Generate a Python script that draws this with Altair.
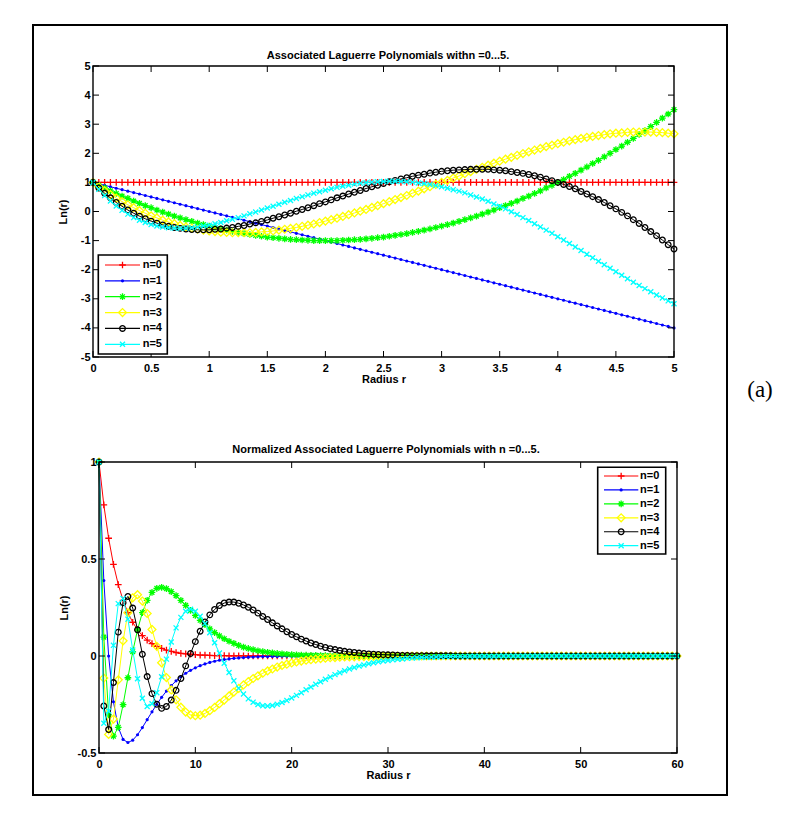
import altair as alt
import pandas as pd

# ---------------------------------------------------------------- data
# radii sampled in the upper panel (0 .. 5, step 0.05)
R_TOP = [
    0.00, 0.05, 0.10, 0.15, 0.20, 0.25, 0.30, 0.35, 0.40, 0.45,
    0.50, 0.55, 0.60, 0.65, 0.70, 0.75, 0.80, 0.85, 0.90, 0.95,
    1.00, 1.05, 1.10, 1.15, 1.20, 1.25, 1.30, 1.35, 1.40, 1.45,
    1.50, 1.55, 1.60, 1.65, 1.70, 1.75, 1.80, 1.85, 1.90, 1.95,
    2.00, 2.05, 2.10, 2.15, 2.20, 2.25, 2.30, 2.35, 2.40, 2.45,
    2.50, 2.55, 2.60, 2.65, 2.70, 2.75, 2.80, 2.85, 2.90, 2.95,
    3.00, 3.05, 3.10, 3.15, 3.20, 3.25, 3.30, 3.35, 3.40, 3.45,
    3.50, 3.55, 3.60, 3.65, 3.70, 3.75, 3.80, 3.85, 3.90, 3.95,
    4.00, 4.05, 4.10, 4.15, 4.20, 4.25, 4.30, 4.35, 4.40, 4.45,
    4.50, 4.55, 4.60, 4.65, 4.70, 4.75, 4.80, 4.85, 4.90, 4.95,
    5.00,
]

TOP_L0 = [
    1, 1, 1, 1, 1, 1, 1, 1, 1, 1,
    1, 1, 1, 1, 1, 1, 1, 1, 1, 1,
    1, 1, 1, 1, 1, 1, 1, 1, 1, 1,
    1, 1, 1, 1, 1, 1, 1, 1, 1, 1,
    1, 1, 1, 1, 1, 1, 1, 1, 1, 1,
    1, 1, 1, 1, 1, 1, 1, 1, 1, 1,
    1, 1, 1, 1, 1, 1, 1, 1, 1, 1,
    1, 1, 1, 1, 1, 1, 1, 1, 1, 1,
    1, 1, 1, 1, 1, 1, 1, 1, 1, 1,
    1, 1, 1, 1, 1, 1, 1, 1, 1, 1,
    1,
]
TOP_L1 = [
    1.00, 0.95, 0.90, 0.85, 0.80, 0.75, 0.70, 0.65, 0.60, 0.55,
    0.50, 0.45, 0.40, 0.35, 0.30, 0.25, 0.20, 0.15, 0.10, 0.05,
    0.00, -0.05, -0.10, -0.15, -0.20, -0.25, -0.30, -0.35, -0.40, -0.45,
    -0.50, -0.55, -0.60, -0.65, -0.70, -0.75, -0.80, -0.85, -0.90, -0.95,
    -1.00, -1.05, -1.10, -1.15, -1.20, -1.25, -1.30, -1.35, -1.40, -1.45,
    -1.50, -1.55, -1.60, -1.65, -1.70, -1.75, -1.80, -1.85, -1.90, -1.95,
    -2.00, -2.05, -2.10, -2.15, -2.20, -2.25, -2.30, -2.35, -2.40, -2.45,
    -2.50, -2.55, -2.60, -2.65, -2.70, -2.75, -2.80, -2.85, -2.90, -2.95,
    -3.00, -3.05, -3.10, -3.15, -3.20, -3.25, -3.30, -3.35, -3.40, -3.45,
    -3.50, -3.55, -3.60, -3.65, -3.70, -3.75, -3.80, -3.85, -3.90, -3.95,
    -4.00,
]
TOP_L2 = [
    1.00, 0.90, 0.81, 0.71, 0.62, 0.53, 0.45, 0.36, 0.28, 0.20,
    0.13, 0.05, -0.02, -0.09, -0.16, -0.22, -0.28, -0.34, -0.40, -0.45,
    -0.50, -0.55, -0.60, -0.64, -0.68, -0.72, -0.76, -0.79, -0.82, -0.85,
    -0.88, -0.90, -0.92, -0.94, -0.96, -0.97, -0.98, -0.99, -1.00, -1.00,
    -1.00, -1.00, -1.00, -0.99, -0.98, -0.97, -0.96, -0.94, -0.92, -0.90,
    -0.88, -0.85, -0.82, -0.79, -0.76, -0.72, -0.68, -0.64, -0.60, -0.55,
    -0.50, -0.45, -0.40, -0.34, -0.28, -0.22, -0.16, -0.09, -0.02, 0.05,
    0.13, 0.20, 0.28, 0.36, 0.45, 0.53, 0.62, 0.71, 0.81, 0.90,
    1.00, 1.10, 1.21, 1.31, 1.42, 1.53, 1.65, 1.76, 1.88, 2.00,
    2.13, 2.25, 2.38, 2.51, 2.65, 2.78, 2.92, 3.06, 3.21, 3.35,
    3.50,
]
TOP_L3 = [
    1.00, 0.85, 0.71, 0.58, 0.46, 0.34, 0.23, 0.13, 0.03, -0.06,
    -0.15, -0.22, -0.30, -0.36, -0.42, -0.48, -0.53, -0.57, -0.61, -0.64,
    -0.67, -0.69, -0.71, -0.72, -0.73, -0.73, -0.73, -0.73, -0.72, -0.70,
    -0.69, -0.67, -0.64, -0.61, -0.58, -0.55, -0.51, -0.47, -0.43, -0.38,
    -0.33, -0.28, -0.23, -0.17, -0.11, -0.05, 0.01, 0.07, 0.14, 0.20,
    0.27, 0.34, 0.41, 0.48, 0.55, 0.63, 0.70, 0.78, 0.85, 0.93,
    1.00, 1.07, 1.15, 1.22, 1.30, 1.37, 1.45, 1.52, 1.59, 1.66,
    1.73, 1.80, 1.86, 1.93, 1.99, 2.05, 2.11, 2.17, 2.23, 2.28,
    2.33, 2.38, 2.43, 2.47, 2.51, 2.55, 2.58, 2.61, 2.64, 2.67,
    2.69, 2.70, 2.72, 2.73, 2.73, 2.73, 2.73, 2.72, 2.71, 2.69,
    2.67,
]
TOP_L4 = [
    1.00, 0.81, 0.63, 0.47, 0.31, 0.18, 0.05, -0.06, -0.16, -0.25,
    -0.33, -0.40, -0.46, -0.51, -0.55, -0.58, -0.60, -0.62, -0.63, -0.63,
    -0.63, -0.61, -0.60, -0.57, -0.55, -0.51, -0.48, -0.43, -0.39, -0.34,
    -0.29, -0.23, -0.18, -0.12, -0.06, 0.01, 0.07, 0.13, 0.20, 0.27,
    0.33, 0.40, 0.47, 0.53, 0.60, 0.66, 0.72, 0.79, 0.85, 0.90,
    0.96, 1.02, 1.07, 1.12, 1.16, 1.21, 1.25, 1.28, 1.32, 1.35,
    1.38, 1.40, 1.42, 1.43, 1.44, 1.45, 1.45, 1.45, 1.45, 1.43,
    1.42, 1.40, 1.37, 1.34, 1.31, 1.27, 1.23, 1.18, 1.12, 1.06,
    1.00, 0.93, 0.86, 0.78, 0.69, 0.60, 0.51, 0.41, 0.31, 0.20,
    0.09, -0.03, -0.15, -0.28, -0.41, -0.55, -0.69, -0.83, -0.98, -1.14,
    -1.29,
]
TOP_L5 = [
    1.00, 0.76, 0.55, 0.36, 0.19, 0.04, -0.09, -0.21, -0.30, -0.38,
    -0.45, -0.50, -0.53, -0.56, -0.57, -0.58, -0.57, -0.56, -0.53, -0.50,
    -0.47, -0.42, -0.38, -0.32, -0.27, -0.21, -0.15, -0.08, -0.02, 0.05,
    0.12, 0.18, 0.25, 0.32, 0.38, 0.45, 0.51, 0.57, 0.63, 0.68,
    0.73, 0.78, 0.83, 0.87, 0.90, 0.94, 0.97, 0.99, 1.01, 1.02,
    1.03, 1.04, 1.04, 1.03, 1.02, 1.01, 0.98, 0.96, 0.93, 0.89,
    0.85, 0.80, 0.75, 0.70, 0.64, 0.57, 0.50, 0.43, 0.35, 0.26,
    0.18, 0.09, -0.01, -0.10, -0.21, -0.31, -0.42, -0.53, -0.64, -0.75,
    -0.87, -0.98, -1.10, -1.22, -1.34, -1.47, -1.59, -1.71, -1.83, -1.95,
    -2.07, -2.19, -2.31, -2.43, -2.54, -2.65, -2.76, -2.87, -2.97, -3.07,
    -3.17,
]

# radii sampled in the lower panel (0 .. 60, step 0.5)
R_BOT = [
    0, 0.5, 1, 1.5, 2, 2.5, 3, 3.5, 4, 4.5,
    5, 5.5, 6, 6.5, 7, 7.5, 8, 8.5, 9, 9.5,
    10, 10.5, 11, 11.5, 12, 12.5, 13, 13.5, 14, 14.5,
    15, 15.5, 16, 16.5, 17, 17.5, 18, 18.5, 19, 19.5,
    20, 20.5, 21, 21.5, 22, 22.5, 23, 23.5, 24, 24.5,
    25, 25.5, 26, 26.5, 27, 27.5, 28, 28.5, 29, 29.5,
    30, 30.5, 31, 31.5, 32, 32.5, 33, 33.5, 34, 34.5,
    35, 35.5, 36, 36.5, 37, 37.5, 38, 38.5, 39, 39.5,
    40, 40.5, 41, 41.5, 42, 42.5, 43, 43.5, 44, 44.5,
    45, 45.5, 46, 46.5, 47, 47.5, 48, 48.5, 49, 49.5,
    50, 50.5, 51, 51.5, 52, 52.5, 53, 53.5, 54, 54.5,
    55, 55.5, 56, 56.5, 57, 57.5, 58, 58.5, 59, 59.5,
    60,
]

BOT_L0 = [
    1.000, 0.779, 0.607, 0.472, 0.368, 0.287, 0.223, 0.174, 0.135, 0.105,
    0.082, 0.064, 0.050, 0.039, 0.030, 0.024, 0.018, 0.014, 0.011, 0.009,
    0.007, 0.005, 0.004, 0.003, 0.002, 0.002, 0.002, 0.001, 0.001, 0.001,
    0.001, 0, 0, 0, 0, 0, 0, 0, 0, 0,
    0, 0, 0, 0, 0, 0, 0, 0, 0, 0,
    0, 0, 0, 0, 0, 0, 0, 0, 0, 0,
    0, 0, 0, 0, 0, 0, 0, 0, 0, 0,
    0, 0, 0, 0, 0, 0, 0, 0, 0, 0,
    0, 0, 0, 0, 0, 0, 0, 0, 0, 0,
    0, 0, 0, 0, 0, 0, 0, 0, 0, 0,
    0, 0, 0, 0, 0, 0, 0, 0, 0, 0,
    0, 0, 0, 0, 0, 0, 0, 0, 0, 0,
    0,
]
BOT_L1 = [
    1.000, 0.389, 0.000, -0.236, -0.368, -0.430, -0.446, -0.434, -0.406, -0.369,
    -0.328, -0.288, -0.249, -0.213, -0.181, -0.153, -0.128, -0.107, -0.089, -0.074,
    -0.061, -0.050, -0.041, -0.033, -0.027, -0.022, -0.018, -0.015, -0.012, -0.010,
    -0.008, -0.006, -0.005, -0.004, -0.003, -0.003, -0.002, -0.002, -0.001, -0.001,
    -0.001, -0.001, -0.001, 0, 0, 0, 0, 0, 0, 0,
    0, 0, 0, 0, 0, 0, 0, 0, 0, 0,
    0, 0, 0, 0, 0, 0, 0, 0, 0, 0,
    0, 0, 0, 0, 0, 0, 0, 0, 0, 0,
    0, 0, 0, 0, 0, 0, 0, 0, 0, 0,
    0, 0, 0, 0, 0, 0, 0, 0, 0, 0,
    0, 0, 0, 0, 0, 0, 0, 0, 0, 0,
    0, 0, 0, 0, 0, 0, 0, 0, 0, 0,
    0,
]
BOT_L2 = [
    1.000, 0.097, -0.303, -0.413, -0.368, -0.251, -0.112, 0.022, 0.135, 0.224,
    0.287, 0.328, 0.349, 0.354, 0.347, 0.332, 0.311, 0.287, 0.261, 0.235,
    0.209, 0.184, 0.161, 0.140, 0.121, 0.104, 0.089, 0.076, 0.065, 0.055,
    0.046, 0.039, 0.033, 0.027, 0.023, 0.019, 0.016, 0.013, 0.011, 0.009,
    0.007, 0.006, 0.005, 0.004, 0.003, 0.003, 0.002, 0.002, 0.001, 0.001,
    0.001, 0.001, 0.001, 0.001, 0, 0, 0, 0, 0, 0,
    0, 0, 0, 0, 0, 0, 0, 0, 0, 0,
    0, 0, 0, 0, 0, 0, 0, 0, 0, 0,
    0, 0, 0, 0, 0, 0, 0, 0, 0, 0,
    0, 0, 0, 0, 0, 0, 0, 0, 0, 0,
    0, 0, 0, 0, 0, 0, 0, 0, 0, 0,
    0, 0, 0, 0, 0, 0, 0, 0, 0, 0,
    0,
]
BOT_L3 = [
    1.000, -0.114, -0.404, -0.325, -0.123, 0.078, 0.223, 0.300, 0.316, 0.283,
    0.219, 0.137, 0.050, -0.035, -0.111, -0.175, -0.226, -0.264, -0.289, -0.303,
    -0.308, -0.305, -0.296, -0.282, -0.265, -0.246, -0.227, -0.206, -0.186, -0.167,
    -0.149, -0.132, -0.116, -0.102, -0.089, -0.077, -0.067, -0.057, -0.049, -0.042,
    -0.036, -0.031, -0.026, -0.022, -0.019, -0.016, -0.013, -0.011, -0.009, -0.008,
    -0.006, -0.005, -0.005, -0.004, -0.003, -0.003, -0.002, -0.002, -0.001, -0.001,
    -0.001, -0.001, -0.001, -0.001, 0, 0, 0, 0, 0, 0,
    0, 0, 0, 0, 0, 0, 0, 0, 0, 0,
    0, 0, 0, 0, 0, 0, 0, 0, 0, 0,
    0, 0, 0, 0, 0, 0, 0, 0, 0, 0,
    0, 0, 0, 0, 0, 0, 0, 0, 0, 0,
    0, 0, 0, 0, 0, 0, 0, 0, 0, 0,
    0,
]
BOT_L4 = [
    1.000, -0.258, -0.379, -0.137, 0.123, 0.275, 0.307, 0.247, 0.135, 0.009,
    -0.106, -0.194, -0.249, -0.270, -0.260, -0.227, -0.177, -0.116, -0.051, 0.013,
    0.074, 0.128, 0.175, 0.212, 0.240, 0.260, 0.273, 0.278, 0.278, 0.272,
    0.263, 0.251, 0.237, 0.221, 0.204, 0.188, 0.171, 0.155, 0.140, 0.125,
    0.111, 0.099, 0.087, 0.077, 0.067, 0.059, 0.051, 0.044, 0.038, 0.033,
    0.028, 0.024, 0.021, 0.018, 0.015, 0.013, 0.011, 0.009, 0.008, 0.007,
    0.006, 0.005, 0.004, 0.003, 0.003, 0.002, 0.002, 0.002, 0.001, 0.001,
    0.001, 0.001, 0.001, 0.001, 0, 0, 0, 0, 0, 0,
    0, 0, 0, 0, 0, 0, 0, 0, 0, 0,
    0, 0, 0, 0, 0, 0, 0, 0, 0, 0,
    0, 0, 0, 0, 0, 0, 0, 0, 0, 0,
    0, 0, 0, 0, 0, 0, 0, 0, 0, 0,
    0,
]
BOT_L5 = [
    1.000, -0.347, -0.283, 0.055, 0.270, 0.296, 0.190, 0.031, -0.117, -0.218,
    -0.260, -0.246, -0.189, -0.107, -0.016, 0.072, 0.145, 0.199, 0.231, 0.241,
    0.231, 0.205, 0.167, 0.120, 0.068, 0.015, -0.037, -0.085, -0.128, -0.166,
    -0.196, -0.221, -0.238, -0.250, -0.256, -0.258, -0.255, -0.249, -0.240, -0.229,
    -0.216, -0.203, -0.189, -0.174, -0.160, -0.146, -0.133, -0.120, -0.108, -0.096,
    -0.086, -0.076, -0.067, -0.059, -0.052, -0.046, -0.040, -0.035, -0.030, -0.026,
    -0.023, -0.020, -0.017, -0.015, -0.012, -0.011, -0.009, -0.008, -0.007, -0.006,
    -0.005, -0.004, -0.003, -0.003, -0.002, -0.002, -0.002, -0.001, -0.001, -0.001,
    -0.001, -0.001, -0.001, 0, 0, 0, 0, 0, 0, 0,
    0, 0, 0, 0, 0, 0, 0, 0, 0, 0,
    0, 0, 0, 0, 0, 0, 0, 0, 0, 0,
    0, 0, 0, 0, 0, 0, 0, 0, 0, 0,
    0,
]

LABELS = ["n=0", "n=1", "n=2", "n=3", "n=4", "n=5"]
TOP_XTICKS = [0, 0.5, 1, 1.5, 2, 2.5, 3, 3.5, 4, 4.5, 5]
TOP_YTICKS = [-5, -4, -3, -2, -1, 0, 1, 2, 3, 4, 5]
BOT_XTICKS = [0, 10, 20, 30, 40, 50, 60]
BOT_YTICKS = [-0.5, 0, 0.5, 1]

# ---------------------------------------------------------------- style
FONT = "Liberation Sans"
COLORS = ["#ff0000", "#0000ff", "#00ff00", "#ffff00", "#000000", "#00ffff"]
PLUS = "M-1,0L1,0M0,-1L0,1"
STAR = "M-1,0L1,0M0,-1L0,1M-0.7,-0.7L0.7,0.7M-0.7,0.7L0.7,-0.7"
XMARK = "M-0.75,-0.75L0.75,0.75M-0.75,0.75L0.75,-0.75"
MARKERS = [
    dict(shape=PLUS, size=45, filled=False),
    dict(shape="circle", size=10, filled=True),
    dict(shape=STAR, size=45, filled=False),
    dict(shape="diamond", size=62, filled=False),
    dict(shape="circle", size=32, filled=False),
    dict(shape=XMARK, size=45, filled=False),
]

W, H = 584, 291          # panel group size
TICK = 6                 # inward tick length
ONE = pd.DataFrame({"k": [0]})


def point_mark(n):
    m = MARKERS[n]
    return dict(shape=m["shape"], size=m["size"], filled=m["filled"],
                color=COLORS[n], strokeWidth=1.3, opacity=1)


def panel(r, series, xdom, ydom, x0, x1, xticks, yticks, title, title_dx,
          title_offset, ytitle_x, legend, before=(), after=()):
    xs = alt.Scale(domain=xdom, range=[x0, x1], nice=False, zero=False)
    ys = alt.Scale(domain=ydom, nice=False, zero=False)
    # identical axis definitions are given to every layer so they merge cleanly
    xaxis = alt.Axis(values=xticks, labelExpr="'' + datum.value", ticks=False,
                     domain=False, grid=False, labelPadding=5, labelFlush=False,
                     labelOverlap=False, title="Radius r",
                     titleX=(x0 + x1) / 2, titleY=22, titleBaseline="middle")
    yaxis = alt.Axis(values=yticks, labelExpr="'' + datum.value", ticks=False,
                     domain=False, grid=False, labelPadding=3, labelOverlap=False,
                     offset=-x0, title="Ln(r)", titleX=ytitle_x, titleY=H / 2,
                     titleBaseline="middle", titleAngle=-90)

    def X(field):
        return alt.X(field, scale=xs, axis=xaxis)

    def Y(field):
        return alt.Y(field, scale=ys, axis=yaxis)

    layers = list(before)

    # curves: line first, then markers, one series after the other
    for n, vals in enumerate(series):
        df = pd.DataFrame({"r": r, "v": vals})
        base = alt.Chart(df).encode(x=X("r:Q"), y=Y("v:Q"))
        layers.append(base.mark_line(color=COLORS[n], strokeWidth=1))
        layers.append(base.mark_point(**point_mark(n)))

    xt = pd.DataFrame({"t": xticks})
    yt = pd.DataFrame({"t": yticks})
    rule = dict(color="black", strokeWidth=1)
    layers += [
        alt.Chart(xt).mark_rule(**rule).encode(
            x=X("t:Q"), y=alt.value(H), y2=alt.value(H - TICK)),
        alt.Chart(xt).mark_rule(**rule).encode(
            x=X("t:Q"), y=alt.value(0), y2=alt.value(TICK)),
        alt.Chart(yt).mark_rule(**rule).encode(
            y=Y("t:Q"), x=alt.value(x0), x2=alt.value(x0 + TICK)),
        alt.Chart(yt).mark_rule(**rule).encode(
            y=Y("t:Q"), x=alt.value(x1), x2=alt.value(x1 - TICK)),
        # axes box
        alt.Chart(ONE).mark_rect(fillOpacity=0, stroke="black", strokeWidth=1.4).encode(
            x=alt.value(x0), x2=alt.value(x1), y=alt.value(0), y2=alt.value(H)),
    ]

    # legend: box, then a line sample, marker and label for each series
    bx0, bx1, by0, by1, row0, dy, lx0, lx1, tx = legend
    layers.append(
        alt.Chart(ONE).mark_rect(fill="white", stroke="black", strokeWidth=1.6).encode(
            x=alt.value(bx0), x2=alt.value(bx1), y=alt.value(by0), y2=alt.value(by1)))
    for n in range(6):
        yy = row0 + n * dy
        layers.append(alt.Chart(ONE).mark_rule(color=COLORS[n], strokeWidth=1.2).encode(
            x=alt.value(lx0), x2=alt.value(lx1), y=alt.value(yy)))
        layers.append(alt.Chart(ONE).mark_point(**point_mark(n)).encode(
            x=alt.value((lx0 + lx1) / 2), y=alt.value(yy)))
        layers.append(alt.Chart(ONE).mark_text(
            text=LABELS[n], align="left", baseline="middle", font=FONT,
            fontSize=11, fontWeight="bold", color="black").encode(
            x=alt.value(tx), y=alt.value(yy)))

    layers += list(after)
    return alt.layer(*layers).properties(
        width=W, height=H,
        title=alt.TitleParams(title, font=FONT, fontSize=11, fontWeight="bold",
                              anchor="middle", frame="group", offset=title_offset,
                              dx=title_dx, color="black"),
    )


# outer figure frame and the panel tag, attached to the upper panel
frame = alt.Chart(ONE).mark_rect(fillOpacity=0, stroke="black", strokeWidth=2).encode(
    x=alt.value(-60), x2=alt.value(634), y=alt.value(-41), y2=alt.value(729))
tag = alt.Chart(ONE).mark_text(
    text="(a)", font="Liberation Serif", fontSize=23, align="center",
    baseline="middle", color="black").encode(x=alt.value(667), y=alt.value(324))

top = panel(
    R_TOP, [TOP_L0, TOP_L1, TOP_L2, TOP_L3, TOP_L4, TOP_L5],
    [0, 5], [-5, 5], 0, 581, TOP_XTICKS, TOP_YTICKS,
    "Associated Laguerre Polynomials withn =0...5.", 3, -37, -30,
    (5.3, 74.3, 189, 288, 199, 15.86, 12, 47, 49.7),
    before=[frame], after=[tag],
)

bottom = panel(
    R_BOT, [BOT_L0, BOT_L1, BOT_L2, BOT_L3, BOT_L4, BOT_L5],
    [0, 60], [-0.5, 1], 6, 584, BOT_XTICKS, BOT_YTICKS,
    "Normalized Associated Laguerre Polynomials with n =0...5.", 1, 0, -35,
    (504.7, 572.7, 5.3, 92, 14, 13.94, 511, 545.3, 547),
)

chart = alt.vconcat(top, bottom, spacing=105, bounds="flush").properties(
    padding={"left": 32, "top": 24, "right": 5, "bottom": 5},
    background="white",
).configure_view(
    stroke=None
).configure_axis(
    labelFont=FONT, labelFontSize=11, labelFontWeight="bold", labelColor="black",
    titleFont=FONT, titleFontSize=11, titleFontWeight="bold", titleColor="black",
)

chart.save("out.html", embed_options={"renderer": "svg", "actions": False})
